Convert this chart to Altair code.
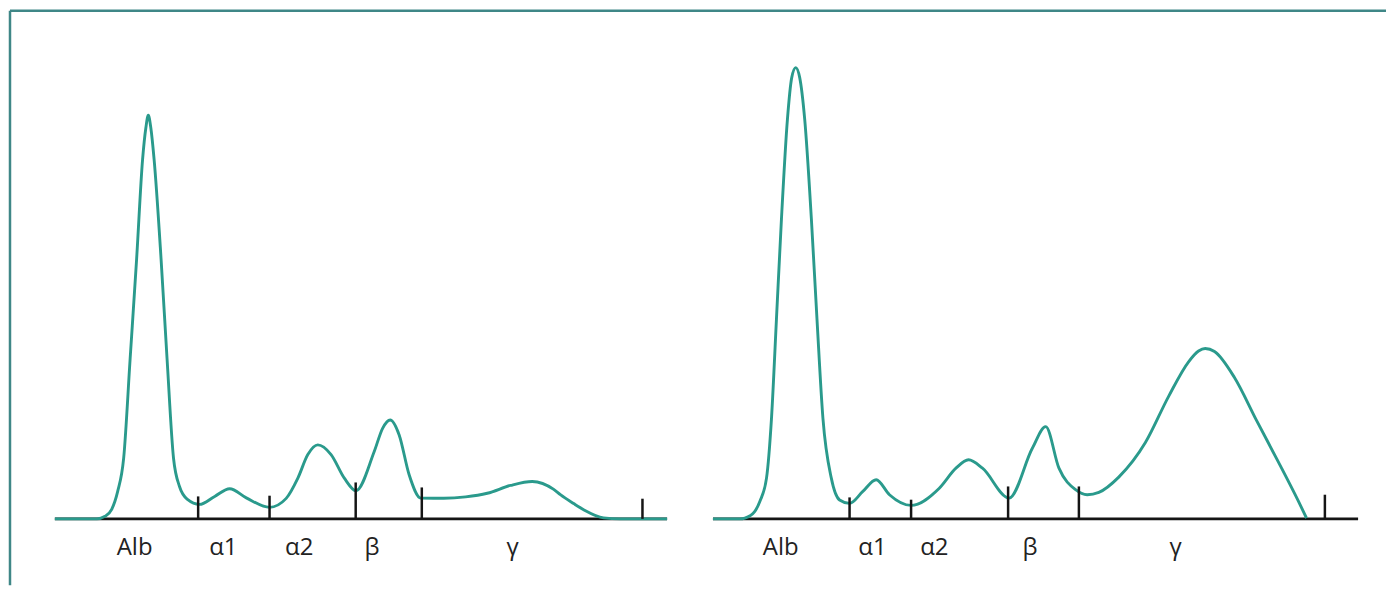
import altair as alt
import pandas as pd

# ---- data (mobility units, relative density) ----
fractions = ["Alb", "α1", "α2", "β", "γ"]

# normal serum (left panel)
left_x = [0, 8.4, 10.06, 11.4, 12.6, 13.8, 15.1, 16.4, 17.6, 18.26, 18.74, 19.24,
          19.9, 21.3, 22.5, 23.8, 25.0, 26.6, 29.0, 32.06, 35.06, 38.4, 43.06, 46.4,
          48.74, 50.74, 52.74, 55.4, 58.06, 60.4, 64.06, 65.74, 67.26, 69.06, 71.06,
          73.4, 78.0, 82.4, 86.74, 91.4, 95.74, 100.06, 101.4, 104.06, 106.06, 110.06,
          113.4, 122.8]
left_y = [0, 0, 0.56, 2.11, 6.11, 13.51, 35.73, 57.96, 80.18, 87.22, 89.96, 87.22,
          80.18, 57.96, 35.73, 13.51, 7.22, 4.33, 3.22, 5.0, 6.71, 4.67, 2.56, 4.56,
          9.07, 14.33, 16.49, 14.33, 9.07, 6.27, 15.0, 20.18, 22.04, 18.71, 9.82,
          4.62, 4.6, 4.9, 5.7, 7.44, 8.33, 6.56, 5.38, 3.4, 2.04, 0.22, 0, 0]

# polyclonal gammopathy (right panel)
right_x = [0, 5.4, 6.4, 8.4, 9.4, 10.74, 11.74, 12.74, 13.74, 14.94, 15.8, 16.6,
           17.4, 18.4, 19.74, 20.86, 22.06, 23.74, 25.4, 27.4, 30.06, 32.74, 35.4,
           39.74, 45.4, 48.74, 51.26, 54.06, 59.4, 64.06, 66.74, 69.4, 72.74, 75.06,
           77.4, 81.4, 86.74, 91.4, 95.4, 97.4, 98.74, 100.6, 104.6, 109.0, 113.4,
           117.4, 119.06]
right_y = [0, 0, 0.18, 1.67, 3.89, 9.07, 22.4, 44.62, 66.84, 89.07, 98.33, 100.56,
           98.33, 89.07, 66.84, 44.62, 22.4, 9.07, 4.2, 3.44, 6.11, 8.71, 5.38,
           3.0, 6.84, 11.29, 13.16, 11.29, 4.62, 15.73, 20.56, 11.29, 6.49, 5.38,
           5.9, 9.3, 17.0, 27.3, 35.0, 37.4, 37.96, 37.3, 31.5, 22.0, 12.7,
           4.0, 0.18]

# fraction boundary markers (position, marker height)
left_bounds = [28.74, 43.06, 60.34, 73.6, 117.86]
left_bound_h = [5.0, 5.16, 8.11, 7.0, 4.49]
right_bounds = [27.4, 39.74, 59.2, 73.4, 122.74]
right_bound_h = [4.78, 4.27, 7.22, 7.22, 5.38]

# fraction label positions
left_label_x = [16.0, 33.8, 49.0, 63.6, 91.8]
right_label_x = [13.6, 32.0, 44.4, 63.6, 92.8]

# baseline extent
left_base = [0, 122.8]
right_base = [0, 129.4]

# ---- styling ----
TEAL = "#2a9a8c"
FRAME = "#3f8787"
H = 576
W_LEFT = 692
W_RIGHT = 688
Y_DOMAIN = [-14.78, 113.22]


def panel(cx, cy, bx, bh, lx, base, xdom, width, with_frame):
    xs = alt.Scale(domain=xdom, nice=False, zero=False)
    ys = alt.Scale(domain=Y_DOMAIN, nice=False, zero=False)

    base_df = pd.DataFrame({"x": [base[0]], "x2": [base[1]], "y": [0]})
    baseline = alt.Chart(base_df).mark_rule(color="#151515", strokeWidth=2.6).encode(
        x=alt.X("x:Q", scale=xs, axis=None),
        x2="x2:Q",
        y=alt.Y("y:Q", scale=ys, axis=None),
    )

    curve_df = pd.DataFrame({"x": cx, "y": cy})
    curve = alt.Chart(curve_df).mark_line(
        color=TEAL, strokeWidth=2.9, interpolate="monotone"
    ).encode(
        x=alt.X("x:Q", scale=xs, axis=None),
        y=alt.Y("y:Q", scale=ys, axis=None),
    )

    tick_df = pd.DataFrame({"x": bx, "y0": [0] * len(bx), "h": bh})
    ticks = alt.Chart(tick_df).mark_rule(color="#151515", strokeWidth=2.5).encode(
        x=alt.X("x:Q", scale=xs, axis=None),
        y=alt.Y("y0:Q", scale=ys, axis=None),
        y2="h:Q",
    )

    lab_df = pd.DataFrame({"x": lx, "label": fractions})
    labels = alt.Chart(lab_df).mark_text(
        font="Open Sans", fontSize=24, color="#222222", baseline="alphabetic", align="center"
    ).encode(
        x=alt.X("x:Q", scale=xs, axis=None),
        y=alt.value(546),
        text="label:N",
    )

    layers = [baseline, curve, ticks, labels]
    if with_frame:
        frame_top = alt.Chart(base_df).mark_rule(color=FRAME, strokeWidth=2.5).encode(
            x=alt.value(0), x2=alt.value(W_LEFT + W_RIGHT), y=alt.value(0)
        )
        frame_left = alt.Chart(base_df).mark_rule(color=FRAME, strokeWidth=2.5).encode(
            x=alt.value(0), y=alt.value(0), y2=alt.value(H)
        )
        layers += [frame_top, frame_left]
    return alt.layer(*layers).properties(width=width, height=H)


left = panel(left_x, left_y, left_bounds, left_bound_h, left_label_x, left_base,
             [-9, 129.4], W_LEFT, True)
right = panel(right_x, right_y, right_bounds, right_bound_h, right_label_x, right_base,
              [-2.6, 135], W_RIGHT, False)

chart = (
    alt.hconcat(left, right, spacing=0, bounds="flush")
    .properties(padding=0, background="white")
    .configure_view(strokeWidth=0)
)

chart.save("out.html", embed_options={"renderer": "svg", "actions": False})
